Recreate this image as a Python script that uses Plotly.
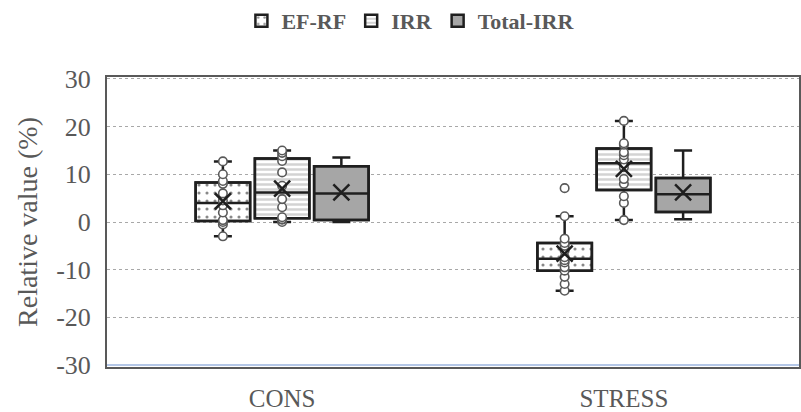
import numpy as np
import plotly.graph_objects as go

categories = ["CONS", "STRESS"]
series_names = ["EF-RF", "IRR", "Total-IRR"]

# sample values (Relative value, %)
ef_rf_cons = [-3.0, -0.5, 0.0, 0.4, 2.0, 3.5, 4.5, 6.0, 8.0, 8.6, 10.0, 12.7]
ef_rf_stress = [-14.4, -13.0, -11.5, -10.2, -9.5, -8.5, -8.0, -7.4, -6.0, -5.0, -4.4, -3.5, 1.2, 7.1]
irr_cons = [0.0, 0.5, 0.6, 1.0, 3.1, 4.8, 7.6, 10.4, 12.8, 13.8, 14.5, 15.0]
irr_stress = [0.4, 4.0, 5.4, 8.0, 9.0, 11.5, 13.1, 14.0, 14.6, 16.2, 16.5, 21.2]
total_cons = [0.0, 0.2, 0.6, 4.5, 7.5, 11.0, 12.4, 13.5]
total_stress = [0.6, 1.6, 2.6, 5.0, 6.6, 8.8, 9.6, 15.0]

y_ticks = [-30, -20, -10, 0, 10, 20, 30]
y_ticktext = ["-30", "-20", "-10", "0", "10", "20", "30"]

data = {
    "EF-RF": (ef_rf_cons, ef_rf_stress),
    "IRR": (irr_cons, irr_stress),
    "Total-IRR": (total_cons, total_stress),
}

FONT = "Liberation Serif, Times New Roman, DejaVu Serif, serif"
TXT = "#595959"
LINE = "#1f1f1f"
GAP = 0.48
GGAP = 0.08


def quart(vals, p):
    # same linear rule as plotly's default quartile method
    s = np.sort(np.asarray(vals, dtype=float))
    pos = len(s) * p - 0.5
    pos = min(max(pos, 0), len(s) - 1)
    lo = int(np.floor(pos))
    hi = min(lo + 1, len(s) - 1)
    return s[lo] + (s[hi] - s[lo]) * (pos - lo)


styles = {
    "EF-RF": dict(color="white", pattern=dict(shape=".", fgcolor="#111111", bgcolor="white",
                                              size=8, solidity=0.12, fillmode="overlay")),
    "IRR": dict(color="white", pattern=dict(shape="-", fgcolor="#a8a8a8", bgcolor="white",
                                            size=5, solidity=0.5, fillmode="overlay")),
    "Total-IRR": dict(color="#a6a6a6"),
}

fig = go.Figure()

# pattern fills (interquartile range) — these also carry the legend
for i, name in enumerate(series_names):
    c, s = data[name]
    q1 = [quart(c, 0.25), quart(s, 0.25)]
    q3 = [quart(c, 0.75), quart(s, 0.75)]
    fig.add_trace(go.Bar(
        x=categories, y=[q3[0] - q1[0], q3[1] - q1[1]], base=q1,
        name=name, offsetgroup=str(i), showlegend=True,
        marker=dict(line=dict(color=LINE, width=2.5), **styles[name]),
        hoverinfo="skip",
    ))

# box plots
for i, name in enumerate(series_names):
    c, s = data[name]
    fig.add_trace(go.Box(
        x=[categories[0]] * len(c) + [categories[1]] * len(s),
        y=list(c) + list(s),
        name=name, offsetgroup=str(i), showlegend=False,
        fillcolor="rgba(0,0,0,0)",
        line=dict(color=LINE, width=2.5),
        whiskerwidth=0.33,
        boxpoints="all" if name != "Total-IRR" else False,
        jitter=0, pointpos=0,
        marker=dict(symbol="circle", size=8.5, color="white",
                    line=dict(color="#595959", width=1.6)),
    ))

# mean markers
for i, name in enumerate(series_names):
    c, s = data[name]
    fig.add_trace(go.Scatter(
        x=categories, y=[float(np.mean(c)), float(np.mean(s))],
        mode="markers", offsetgroup=str(i), showlegend=False,
        marker=dict(symbol="x-thin", size=16, color=LINE,
                    line=dict(color=LINE, width=2.5)),
    ))

fig.add_shape(type="line", xref="paper", x0=0, x1=1, yref="y", y0=-30, y1=-30,
              line=dict(color="#b4c7e7", width=2), layer="above")

fig.update_layout(
    width=801, height=412,
    margin=dict(l=107, r=0, t=77, b=43),
    paper_bgcolor="white", plot_bgcolor="white",
    barmode="group", boxmode="group", scattermode="group",
    bargap=GAP, bargroupgap=GGAP, boxgap=GAP, boxgroupgap=GGAP, scattergap=GAP,
    font=dict(family=FONT, color=TXT),
    legend=dict(orientation="h", xref="container", yref="container",
                x=0.513, xanchor="center", y=1.0, yanchor="top",
                font=dict(family=FONT, size=22, color=TXT, weight="bold"),
                bgcolor="rgba(0,0,0,0)"),
    xaxis=dict(type="category", categoryorder="array", categoryarray=categories,
               showline=True, mirror=True, linecolor="#595959", linewidth=2,
               showgrid=False, ticks="", ticklabelstandoff=8,
               tickfont=dict(family=FONT, size=25, color=TXT)),
    yaxis=dict(range=[-30.4, 30.4], tickvals=y_ticks, ticktext=y_ticktext, ticks="",
               showline=True, mirror=True, linecolor="#595959", linewidth=2,
               showgrid=True, gridcolor="#a8a8a8", griddash="dot", gridwidth=1,
               zeroline=False, ticklabelstandoff=9,
               tickfont=dict(family=FONT, size=26, color=TXT),
               title=dict(text="Relative value (%)", standoff=10,
                          font=dict(family=FONT, size=28, color=TXT))),
)

fig.write_html("out.html")
